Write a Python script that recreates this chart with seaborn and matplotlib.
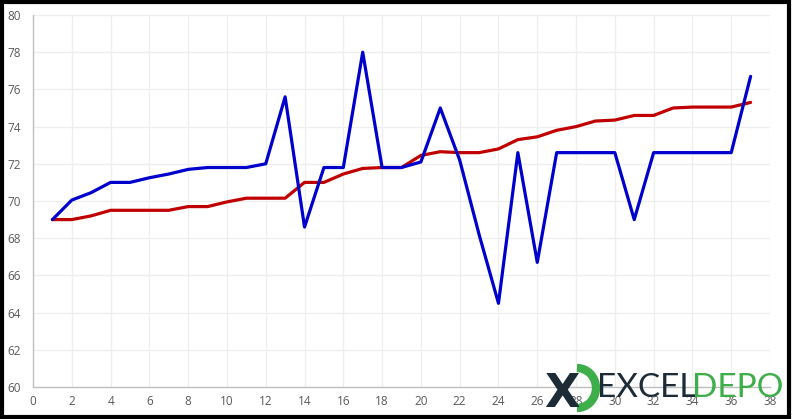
import pandas as pd
import seaborn as sns
import matplotlib.pyplot as plt
from matplotlib.patches import Arc, Rectangle

x_vals = list(range(1, 38))
red_vals = [69.0, 69.0, 69.2, 69.5, 69.5, 69.5, 69.5, 69.7, 69.7, 69.95,
            70.15, 70.15, 70.15, 71.0, 71.0, 71.45, 71.75, 71.8, 71.8, 72.45,
            72.65, 72.6, 72.6, 72.8, 73.3, 73.45, 73.8, 74.0, 74.3, 74.35,
            74.6, 74.6, 75.0, 75.05, 75.05, 75.05, 75.3]
blue_vals = [69.0, 70.05, 70.45, 71.0, 71.0, 71.25, 71.45, 71.7, 71.8, 71.8,
             71.8, 72.0, 75.6, 68.6, 71.8, 71.8, 78.0, 71.8, 71.8, 72.1,
             75.0, 72.2, 68.2, 64.5, 72.6, 66.7, 72.6, 72.6, 72.6, 72.6,
             69.0, 72.6, 72.6, 72.6, 72.6, 72.6, 76.7]
x_ticks = list(range(0, 39, 2))
y_ticks = list(range(60, 81, 2))

df = pd.DataFrame({
    'x': x_vals * 2,
    'value': red_vals + blue_vals,
    'series': ['red'] * len(x_vals) + ['blue'] * len(x_vals),
})

sns.set_style('white')
plt.rcParams['font.family'] = ['Open Sans', 'DejaVu Sans']

fig = plt.figure(figsize=(7.92, 4.19), dpi=100)
ax = fig.add_axes([33 / 792, 32 / 419, 737 / 792, 372 / 419])

sns.lineplot(data=df, x='x', y='value', hue='series',
             palette={'red': '#C00000', 'blue': '#0000CC'},
             linewidth=2.3, legend=False, ax=ax)

ax.set_xlim(0, 38)
ax.set_ylim(60, 80)
ax.set_xticks(x_ticks)
ax.set_yticks(y_ticks)
ax.grid(True, color='#EEEEEE', linewidth=0.9)
ax.set_axisbelow(True)
ax.set_xlabel('')
ax.set_ylabel('')
for s in ['top', 'right']:
    ax.spines[s].set_visible(False)
for s in ['left', 'bottom']:
    ax.spines[s].set_color('#BFBFBF')
    ax.spines[s].set_linewidth(1)
ax.tick_params(axis='both', length=0, labelsize=8.5, colors='#595959')
ax.tick_params(axis='y', pad=9)
ax.tick_params(axis='x', pad=6)

# black frame around the picture
fig.patches.append(Rectangle((0.002, 0.004), 0.994, 0.992, transform=fig.transFigure,
                             fill=False, edgecolor='black', linewidth=3))

# EXCELDEPO watermark
fig.text(544 / 792, 12 / 419, 'X', fontsize=33, fontweight='bold', color='#1C2B36',
         family='DejaVu Sans')
fig.patches.append(Arc((577 / 792, 31 / 419), 38 / 792, 40 / 419, theta1=-90, theta2=90,
                       transform=fig.transFigure, color='#3DAE49', linewidth=6))
fig.text(597 / 792, 22 / 419, 'EXCEL', fontsize=24, color='#1C2B36', va='baseline',
         family=['Lato', 'Open Sans'])
fig.text(692 / 792, 22 / 419, 'DEPO', fontsize=24, color='#3DAE49', va='baseline',
         family=['Lato', 'Open Sans'])

plt.savefig('out.png', dpi=100)
